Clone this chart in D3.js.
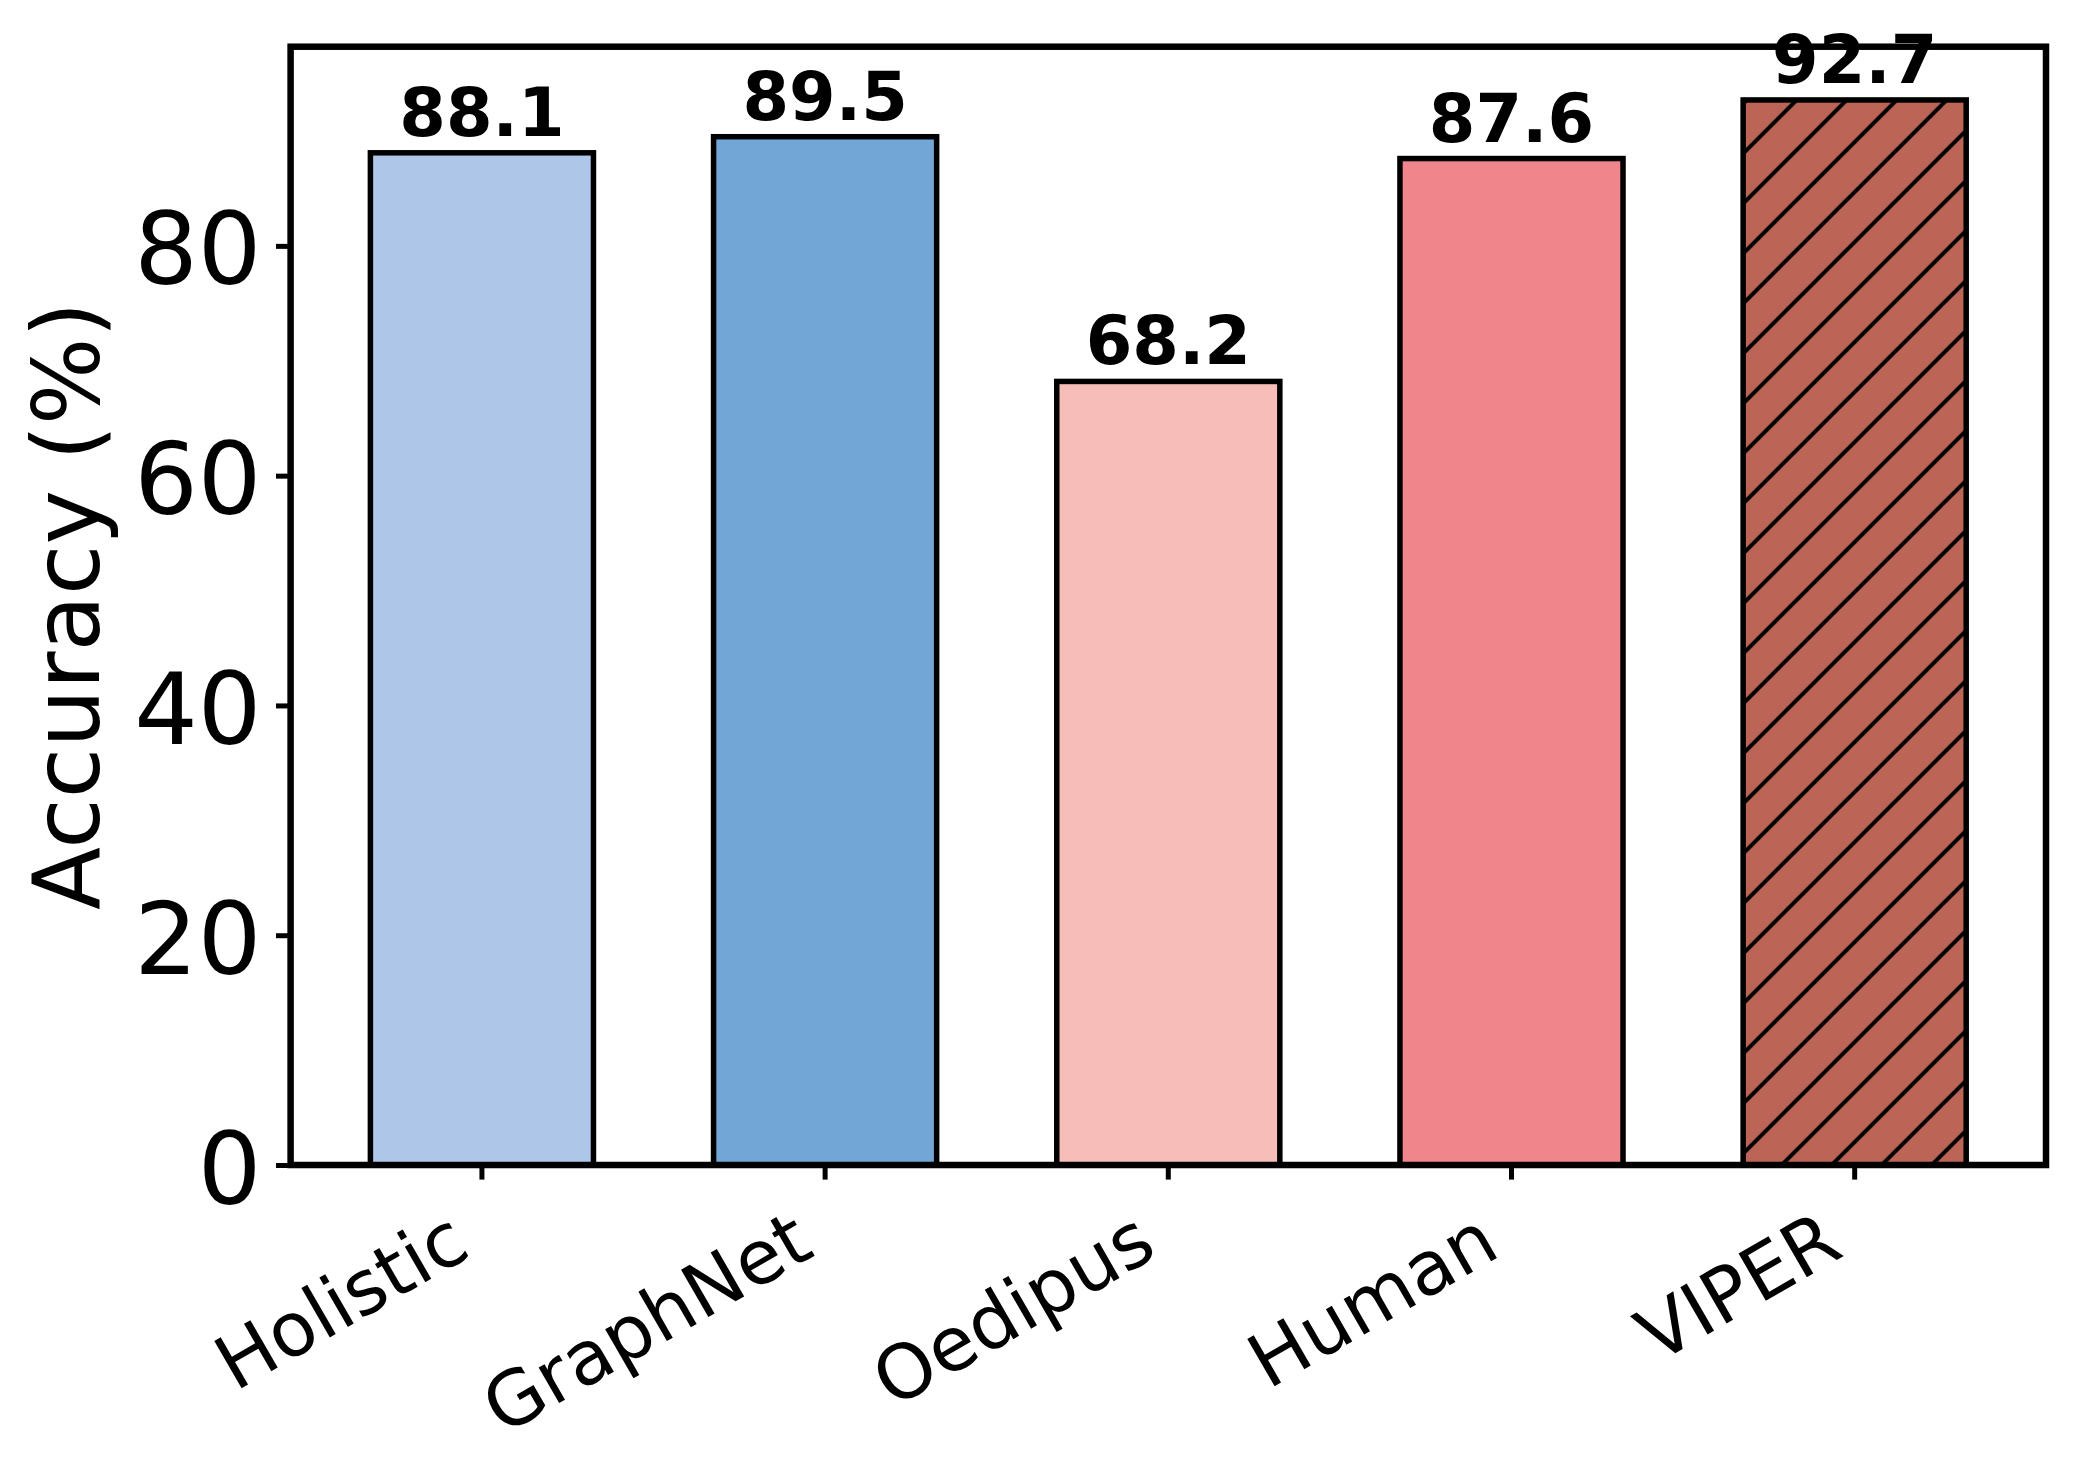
<!DOCTYPE html>
<html>
<head>
<meta charset="utf-8">
<script src="https://cdn.jsdelivr.net/npm/d3@7"></script>
<style>
  body { margin: 0; background: #fff; }
  svg { display: block; font-family: "DejaVu Sans", sans-serif; }
</style>
</head>
<body>
<div id="chart"></div>
<script>
// data
const categories = ['Holistic', 'GraphNet', 'Oedipus', 'Human', 'VIPER'];
const accuracy = [88.1, 89.5, 68.2, 87.6, 92.7];
const yTicks = [0, 20, 40, 60, 80];
const hatchedCats = ['VIPER'];
const barColors = ['#aec7e8', '#72a6d7', '#f7bdb9', '#f0868b', '#bc6557'];

const width = 2074;
const height = 1469;
const plot = { left: 290.6, right: 2046, top: 46.7, bottom: 1165 };

const svg = d3.select('#chart')
  .append('svg')
  .attr('width', width)
  .attr('height', height);

svg.append('rect').attr('width', width).attr('height', height).attr('fill', '#fff');

// matplotlib-like hatch '/' (anchored to the page)
const defs = svg.append('defs');
const pat = defs.append('pattern')
  .attr('id', 'hatch')
  .attr('patternUnits', 'userSpaceOnUse')
  .attr('x', -3.3).attr('y', 0)
  .attr('width', 50).attr('height', 50);
pat.append('path')
  .attr('d', 'M-10,10 L10,-10 M0,50 L50,0 M40,60 L60,40')
  .attr('stroke', '#000')
  .attr('stroke-width', 4);

const x = d3.scaleBand()
  .domain(categories)
  .range([plot.left, plot.right])
  .paddingInner(0.35)
  .paddingOuter(0.2325);

// matplotlib default 5% top margin
const yMax = d3.max(accuracy) * 1.05;
const y = d3.scaleLinear()
  .domain([0, yMax])
  .range([plot.bottom, plot.top]);

const color = d3.scaleOrdinal().domain(categories).range(barColors);

const data = categories.map((c, i) => ({ cat: c, value: accuracy[i] }));

// bars
const bars = svg.append('g');
bars.selectAll('rect.fill')
  .data(data)
  .enter()
  .append('rect')
  .attr('class', 'fill')
  .attr('x', (d) => x(d.cat))
  .attr('y', (d) => y(d.value))
  .attr('width', x.bandwidth())
  .attr('height', (d) => y(0) - y(d.value))
  .attr('fill', (d) => color(d.cat));

bars.selectAll('rect.hatch')
  .data(data.filter((d) => hatchedCats.includes(d.cat)))
  .enter()
  .append('rect')
  .attr('class', 'hatch')
  .attr('x', (d) => x(d.cat))
  .attr('y', (d) => y(d.value))
  .attr('width', x.bandwidth())
  .attr('height', (d) => y(0) - y(d.value))
  .attr('fill', 'url(#hatch)');

bars.selectAll('rect.edge')
  .data(data)
  .enter()
  .append('rect')
  .attr('class', 'edge')
  .attr('x', (d) => x(d.cat))
  .attr('y', (d) => y(d.value))
  .attr('width', x.bandwidth())
  .attr('height', (d) => y(0) - y(d.value))
  .attr('fill', 'none')
  .attr('stroke', '#000')
  .attr('stroke-width', 5.5);

// y axis
const yAxis = svg.append('g')
  .attr('transform', `translate(${plot.left},0)`)
  .call(d3.axisLeft(y).tickValues(yTicks).tickSize(14.6).tickPadding(14.6));
yAxis.select('.domain').remove();
yAxis.selectAll('.tick line').attr('stroke', '#000').attr('stroke-width', 5);
yAxis.selectAll('.tick text')
  .attr('font-family', 'DejaVu Sans')
  .attr('font-size', 100)
  .attr('fill', '#000')
  .attr('dy', '0.38em');

// x axis (ticks only, labels rotated below)
const xAxis = svg.append('g')
  .attr('transform', `translate(0,${plot.bottom})`)
  .call(d3.axisBottom(x).tickSize(14.6).tickFormat(''));
xAxis.select('.domain').remove();
xAxis.selectAll('.tick line').attr('stroke', '#000').attr('stroke-width', 5);
xAxis.selectAll('.tick text').remove();

const labelTop = plot.bottom + 14.6 + 14.6;
const xLabels = svg.append('g');
categories.forEach((c) => {
  const t = xLabels.append('text')
    .attr('font-family', 'DejaVu Sans')
    .attr('font-size', 75)
    .attr('text-anchor', 'end')
    .attr('fill', '#000')
    .attr('transform', 'rotate(-30)')
    .text(c);
  // align rotated box: right edge on tick, top under tick
  const r = t.node().getBoundingClientRect();
  const tx = x(c) + x.bandwidth() / 2;
  t.attr('transform', `translate(${tx - r.right},${labelTop - r.top}) rotate(-30)`);
});

// frame
svg.append('rect')
  .attr('x', plot.left)
  .attr('y', plot.top)
  .attr('width', plot.right - plot.left)
  .attr('height', plot.bottom - plot.top)
  .attr('fill', 'none')
  .attr('stroke', '#000')
  .attr('stroke-width', 6.5);

// value labels
svg.append('g')
  .selectAll('text')
  .data(data)
  .enter()
  .append('text')
  .attr('x', (d) => x(d.cat) + x.bandwidth() / 2)
  .attr('y', (d) => y(d.value) - 17)
  .attr('text-anchor', 'middle')
  .attr('font-family', 'DejaVu Sans')
  .attr('font-weight', 'bold')
  .attr('font-size', 67)
  .attr('fill', '#000')
  .text((d) => d.value.toFixed(1));

// y label
svg.append('text')
  .attr('transform', `translate(99,${(plot.top + plot.bottom) / 2}) rotate(-90)`)
  .attr('text-anchor', 'middle')
  .attr('font-family', 'DejaVu Sans')
  .attr('font-size', 92)
  .attr('fill', '#000')
  .text('Accuracy (%)');
</script>
</body>
</html>
